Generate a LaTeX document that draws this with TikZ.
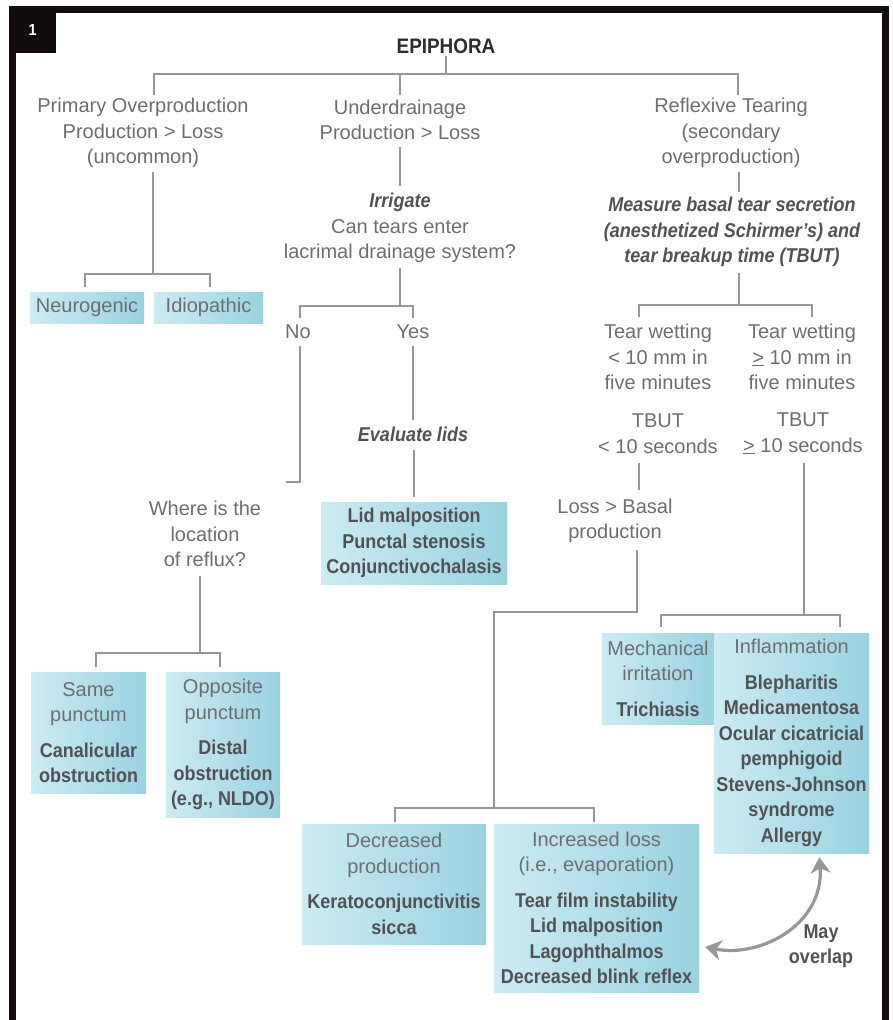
\documentclass[tikz,border=0pt]{standalone}
\usepackage{fontspec}
\setmainfont{Liberation Sans}
\newfontfamily\condf{Liberation Sans}[FakeStretch=0.9]
\usetikzlibrary{arrows.meta,calc}
\definecolor{txtg}{RGB}{108,110,113}
\definecolor{bldg}{RGB}{80,82,85}
\definecolor{titleg}{RGB}{45,45,48}
\definecolor{lineg}{RGB}{150,151,155}
\definecolor{boxl}{RGB}{204,235,242}
\definecolor{boxr}{RGB}{154,210,225}
\definecolor{framec}{RGB}{18,12,12}
\newcommand{\bl}[1]{{\condf\bfseries\color{bldg}#1}}
\newcommand{\bil}[1]{{\condf\bfseries\itshape\color{bldg}#1}}
\begin{document}
\begin{tikzpicture}[x=1pt,y=-1pt,
  txt/.style={font=\fontsize{20}{25.5}\selectfont, text=txtg, align=center, inner sep=0pt},
  box/.style={txt, left color=boxl, right color=boxr, draw=none},
  conn/.style={draw=lineg, line width=2.8pt},
  ovl/.style={draw=lineg, line width=3.2pt, {Stealth[length=16pt,width=20pt,inset=5pt]}-{Stealth[length=16pt,width=20pt,inset=5pt]}}
]
\useasboundingbox (0,0) rectangle (892,1020);
% frame
\fill[framec] (9,6) rectangle (889,13);
\fill[framec] (9,6) rectangle (16,1020);
\fill[framec] (882,6) rectangle (889,1020);
\node[fill=framec, minimum width=47pt, minimum height=47pt, anchor=north west, inner sep=0pt,
  text=white, font=\condf\bfseries\fontsize{16}{18}\selectfont] (lab) at (9,6) {1};

% texts
\node[font=\condf\bfseries\fontsize{21}{25}\selectfont, text=titleg, inner sep=0pt] (title) at (446,46) {EPIPHORA};
\node[txt] (col1) at (143,133) {Primary Overproduction\\Production > Loss\\(uncommon)};
\node[txt] (col2) at (400,120) {Underdrainage\\Production > Loss};
\node[txt] (irr) at (400,228) {\bil{Irrigate}\\Can tears enter\\lacrimal drainage system?};
\node[txt] (no) at (298,332) {No};
\node[txt] (yes) at (413,332) {Yes};
\node[txt] (reflux) at (205,534) {Where is the\\location\\of reflux?};
\node[txt] (evl) at (413,434) {\bil{Evaluate lids}};
\node[txt] (col3) at (731,133) {Reflexive Tearing\\(secondary\\overproduction)};
\node[txt] (meas) at (732,232) {\bil{Measure basal tear secretion}\\\bil{(anesthetized Schirmer’s) and}\\\bil{tear breakup time (TBUT)}};
\node[txt] (tw1) at (658,357) {Tear wetting\\< 10 mm in\\five minutes};
\node[txt] (tw2) at (802,357) {Tear wetting\\\underline{>} 10 mm in\\five minutes};
\node[txt] (tb1) at (658,433.5) {TBUT\\< 10 seconds};
\node[txt] (tb2) at (803,433.5) {TBUT\\\underline{>} 10 seconds};
\node[txt] (loss) at (615,521) {Loss > Basal\\production};
\node[txt] (may) at (821,946) {\bl{May}\\\bl{overlap}};

% boxes
\node[box, minimum width=114pt, minimum height=31pt] (neuro) at (87,307.5) {Neurogenic};
\node[box, minimum width=109pt, minimum height=31pt] (idio) at (208.5,307.5) {Idiopathic};
\node[box, minimum width=115pt, minimum height=121pt] (same) at (88.5,732.5)
  {Same\\punctum\\[10pt]\bl{Canalicular}\\\bl{obstruction}};
\node[box, minimum width=114pt, minimum height=145pt] (opp) at (223,744.5)
  {Opposite\\punctum\\[10pt]\bl{Distal}\\\bl{obstruction}\\\bl{(e.g., NLDO)}};
\node[box, minimum width=186pt, minimum height=82pt] (lid) at (414,543)
  {\bl{Lid malposition}\\\bl{Punctal stenosis}\\\bl{Conjunctivochalasis}};
\node[box, minimum width=112pt, minimum height=91pt] (mech) at (658,678.5)
  {Mechanical\\irritation\\[10pt]\bl{Trichiasis}};
\node[box, minimum width=155pt, minimum height=220pt] (infl) at (791.5,743)
  {Inflammation\\[10pt]\bl{Blepharitis}\\\bl{Medicamentosa}\\\bl{Ocular cicatricial}\\\bl{pemphigoid}\\\bl{Stevens-Johnson}\\\bl{syndrome}\\\bl{Allergy}};
\node[box, minimum width=184pt, minimum height=120pt] (dec) at (394,884)
  {Decreased\\production\\[10pt]\bl{Keratoconjunctivitis}\\\bl{sicca}};
\node[box, minimum width=205pt, minimum height=168pt] (inc) at (596.5,908)
  {Increased loss\\(i.e., evaporation)\\[10pt]\bl{Tear film instability}\\\bl{Lid malposition}\\\bl{Lagophthalmos}\\\bl{Decreased blink reflex}};

% connector points
\coordinate (tL) at (154,74); \coordinate (tM) at (400,74); \coordinate (tR) at (738,74);
\coordinate (c1a) at (154,95); \coordinate (c2a) at (400,95); \coordinate (c3a) at (738,95);
\coordinate (c1b) at (153,172); \coordinate (c1j) at (153,274);
\coordinate (nL) at (85,287); \coordinate (nR) at (210,287);
\coordinate (c2b) at (400,147); \coordinate (c2c) at (400,186);
\coordinate (c2d) at (400,268); \coordinate (c2j) at (400,306);
\coordinate (noT) at (300,318); \coordinate (yesT) at (413,318);
\coordinate (noB) at (300,346); \coordinate (noE) at (286,482);
\coordinate (rfB) at (200,576); \coordinate (rfJ) at (200,653);
\coordinate (rfL) at (96,667); \coordinate (rfR) at (220,667);
\coordinate (yesB) at (413,346); \coordinate (yesE) at (413,420);
\coordinate (evB) at (414,450);
\coordinate (c3b) at (739,172); \coordinate (c3c) at (739,192);
\coordinate (c3d) at (739,273); \coordinate (c3j) at (739,305);
\coordinate (twL) at (639,317); \coordinate (twR) at (812,317);
\coordinate (tbL) at (639,463); \coordinate (tbLe) at (639,490);
\coordinate (lsB) at (637,550); \coordinate (lsJ) at (637,612);
\coordinate (lsK) at (494,612); \coordinate (lsM) at (494,808);
\coordinate (dcT) at (395,822); \coordinate (icT) at (594,822);
\coordinate (tbR) at (804,463); \coordinate (rJ) at (804,615);
\coordinate (mcT) at (661,627); \coordinate (ifT) at (840,627);

% connectors
\draw[conn] (c1a) -- (tL) -- (tR) -- (c3a);
\draw[conn] (tM) -- (c2a);
\draw[conn] ([yshift=-2pt]title.south) -- (title.south |- tM);
\draw[conn] (c1b) -- (c1j);
\draw[conn] (nL) |- (c1j) -| (nR);
\draw[conn] (c2b) -- (c2c);
\draw[conn] (c2d) -- (c2j);
\draw[conn] (noT) |- (c2j) -| (yesT);
\draw[conn] (noB) |- (noE);
\draw[conn] (rfB) -- (rfJ);
\draw[conn] (rfL) |- (rfJ) -| (rfR);
\draw[conn] (yesB) -- (yesE);
\draw[conn] (evB) -- ([yshift=5pt]lid.north);
\draw[conn] (c3b) -- (c3c);
\draw[conn] (c3d) -- (c3j);
\draw[conn] (twL) |- (c3j) -| (twR);
\draw[conn] (tbL) -- (tbLe);
\draw[conn] (lsB) -- (lsJ) -- (lsK) -- (lsM);
\draw[conn] (dcT) |- (lsM) -| (icT);
\draw[conn] (tbR) -- (rJ);
\draw[conn] (mcT) |- (rJ) -| (ifT);

% may overlap arrow
\coordinate (ovA) at ($(inc.east)+(6,39)$);
\coordinate (ovB) at ($(infl.south)+(28,4)$);
\draw[ovl] (ovA) .. controls (760,958) and (824,925) .. (ovB);
\end{tikzpicture}
\end{document}
